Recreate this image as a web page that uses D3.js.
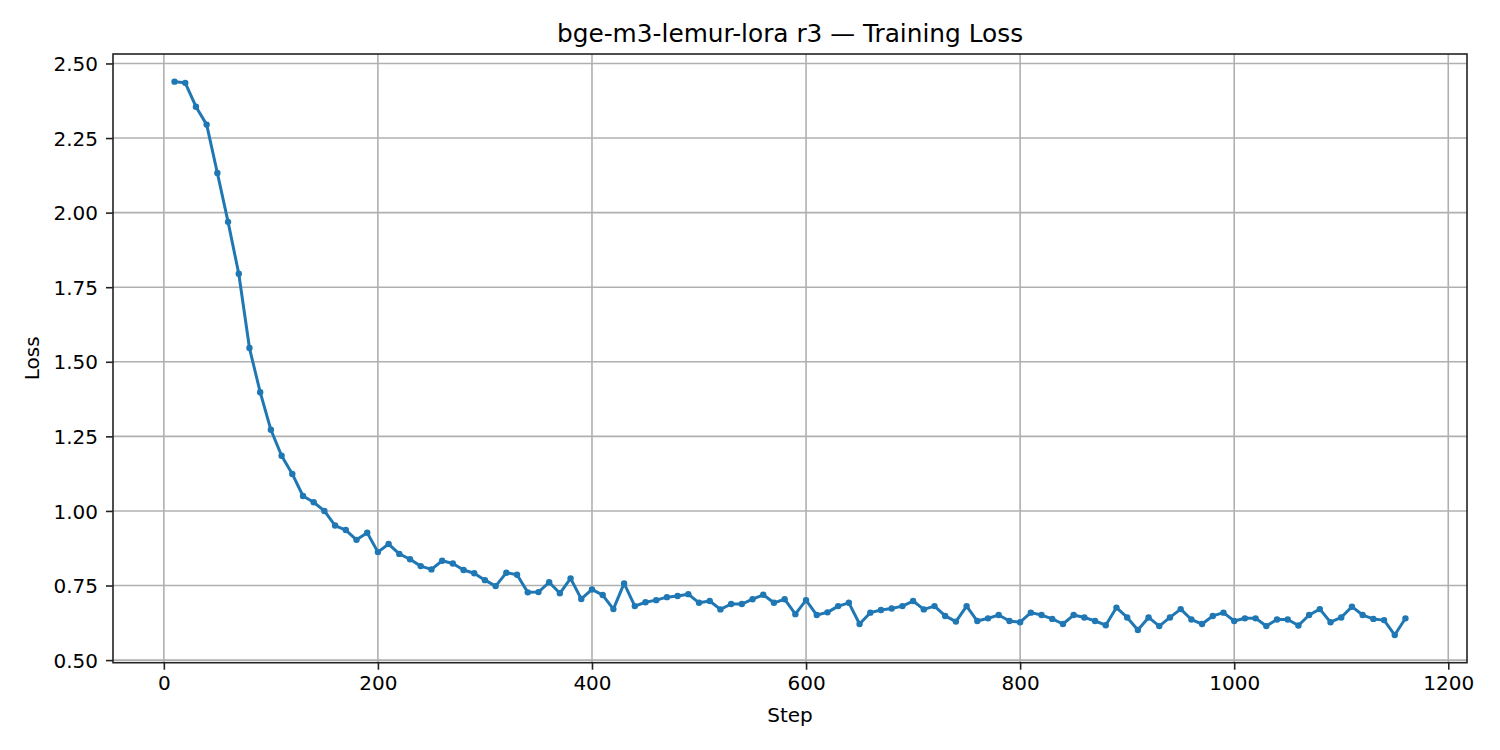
<!DOCTYPE html>
<html>
<head>
<meta charset="utf-8">
<script src="https://cdn.jsdelivr.net/npm/d3@7"></script>
<style>
  html, body { margin: 0; padding: 0; background: #fff; }
  svg { display: block; font-family: "DejaVu Sans", sans-serif; }
</style>
</head>
<body>
<svg id="chart" width="1500" height="750"></svg>
<script>
// training loss logged every 10 steps
const steps = [
  10, 20, 30, 40, 50, 60, 70, 80, 90, 100,
  110, 120, 130, 140, 150, 160, 170, 180, 190, 200,
  210, 220, 230, 240, 250, 260, 270, 280, 290, 300,
  310, 320, 330, 340, 350, 360, 370, 380, 390, 400,
  410, 420, 430, 440, 450, 460, 470, 480, 490, 500,
  510, 520, 530, 540, 550, 560, 570, 580, 590, 600,
  610, 620, 630, 640, 650, 660, 670, 680, 690, 700,
  710, 720, 730, 740, 750, 760, 770, 780, 790, 800,
  810, 820, 830, 840, 850, 860, 870, 880, 890, 900,
  910, 920, 930, 940, 950, 960, 970, 980, 990, 1000,
  1010, 1020, 1030, 1040, 1050, 1060, 1070, 1080, 1090, 1100,
  1110, 1120, 1130, 1140, 1150, 1160
];
const loss = [
  2.439, 2.435, 2.355, 2.295, 2.133, 1.969, 1.795, 1.546, 1.398, 1.272,
  1.185, 1.124, 1.050, 1.029, 1.000, 0.951, 0.936, 0.903, 0.927, 0.862,
  0.889, 0.856, 0.838, 0.815, 0.804, 0.833, 0.824, 0.802, 0.791, 0.768,
  0.748, 0.793, 0.786, 0.727, 0.728, 0.761, 0.724, 0.774, 0.705, 0.737,
  0.718, 0.671, 0.757, 0.681, 0.694, 0.701, 0.711, 0.715, 0.721, 0.692,
  0.698, 0.670, 0.688, 0.688, 0.704, 0.719, 0.692, 0.704, 0.654, 0.701,
  0.651, 0.660, 0.681, 0.692, 0.621, 0.659, 0.668, 0.673, 0.681, 0.698,
  0.670, 0.681, 0.648, 0.629, 0.681, 0.631, 0.640, 0.651, 0.631, 0.627,
  0.659, 0.651, 0.638, 0.621, 0.651, 0.643, 0.631, 0.617, 0.676, 0.643,
  0.601, 0.643, 0.614, 0.643, 0.671, 0.636, 0.621, 0.648, 0.659, 0.631,
  0.640, 0.640, 0.614, 0.636, 0.636, 0.616, 0.651, 0.671, 0.627, 0.643,
  0.679, 0.651, 0.638, 0.634, 0.584, 0.640
];
const xTicks = [0, 200, 400, 600, 800, 1000, 1200];
const yTicks = [0.50, 0.75, 1.00, 1.25, 1.50, 1.75, 2.00, 2.25, 2.50];

const title = "bge-m3-lemur-lora r3 — Training Loss";
const xLabel = "Step";
const yLabel = "Loss";

const box = { left: 113, top: 54, right: 1467, bottom: 662.7 };
const lineColor = "#1f77b4";

const points = steps.map((s, i) => ({ step: s, loss: loss[i] }));

// matplotlib-style 5% padding
function padded(ext) {
  const d = (ext[1] - ext[0]) * 0.05;
  return [ext[0] - d, ext[1] + d];
}

const x = d3.scaleLinear()
  .domain(padded(d3.extent(steps)))
  .range([box.left, box.right]);
const y = d3.scaleLinear()
  .domain(padded(d3.extent(loss)))
  .range([box.bottom, box.top]);

const svg = d3.select("#chart");

// grid
const grid = svg.append("g").attr("stroke", "#b0b0b0").attr("stroke-width", 1.6);
grid.selectAll(".gx").data(xTicks).enter().append("line")
  .attr("x1", d => x(d)).attr("x2", d => x(d))
  .attr("y1", box.top).attr("y2", box.bottom);
grid.selectAll(".gy").data(yTicks).enter().append("line")
  .attr("x1", box.left).attr("x2", box.right)
  .attr("y1", d => y(d)).attr("y2", d => y(d));

// axes
const xAxis = d3.axisBottom(x).tickValues(xTicks).tickFormat(d3.format("d"))
  .tickSizeInner(7).tickSizeOuter(0).tickPadding(6);
const yAxis = d3.axisLeft(y).tickValues(yTicks).tickFormat(d3.format(".2f"))
  .tickSizeInner(7).tickSizeOuter(0).tickPadding(8);

const gx = svg.append("g").attr("transform", `translate(0,${box.bottom})`).call(xAxis);
const gy = svg.append("g").attr("transform", `translate(${box.left},0)`).call(yAxis);
[gx, gy].forEach(g => {
  g.select(".domain").remove();
  g.selectAll(".tick line").attr("stroke", "#222").attr("stroke-width", 1.6);
  g.selectAll(".tick text").attr("fill", "#000").attr("font-size", 20)
    .attr("font-family", "DejaVu Sans");
});
gy.selectAll(".tick text").attr("dy", "0.36em");

// line + markers
const line = d3.line().x(d => x(d.step)).y(d => y(d.loss));
svg.append("path").datum(points)
  .attr("d", line)
  .attr("fill", "none")
  .attr("stroke", lineColor)
  .attr("stroke-width", 3)
  .attr("stroke-linejoin", "round")
  .attr("stroke-linecap", "square");
svg.append("g").selectAll("circle").data(points).enter().append("circle")
  .attr("cx", d => x(d.step)).attr("cy", d => y(d.loss))
  .attr("r", 3.2).attr("fill", lineColor);

// frame
svg.append("rect")
  .attr("x", box.left).attr("y", box.top)
  .attr("width", box.right - box.left).attr("height", box.bottom - box.top)
  .attr("fill", "none").attr("stroke", "#222").attr("stroke-width", 1.6);

// texts
svg.append("text").attr("x", (box.left + box.right) / 2).attr("y", 42)
  .attr("text-anchor", "middle").attr("font-size", 24.8).attr("fill", "#000")
  .text(title);
svg.append("text").attr("x", (box.left + box.right) / 2).attr("y", 722)
  .attr("text-anchor", "middle").attr("font-size", 20).attr("fill", "#000")
  .text(xLabel);
svg.append("text")
  .attr("transform", `translate(39,${(box.top + box.bottom) / 2}) rotate(-90)`)
  .attr("text-anchor", "middle").attr("font-size", 20).attr("fill", "#000")
  .text(yLabel);
</script>
</body>
</html>
